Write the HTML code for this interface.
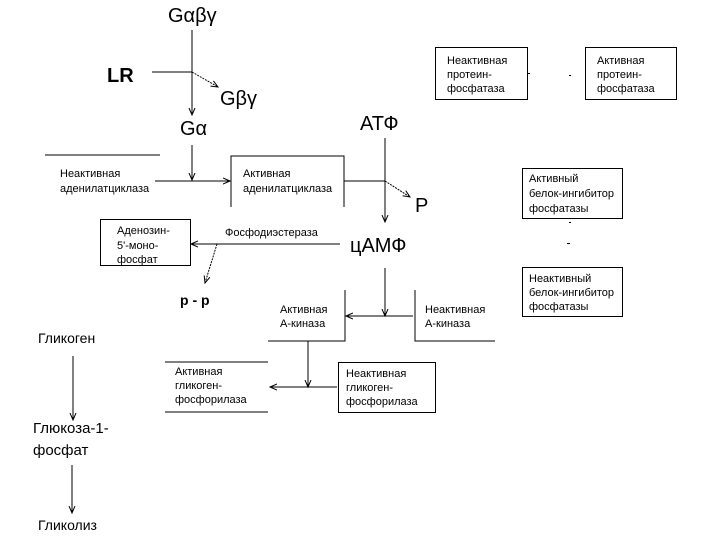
<!DOCTYPE html>
<html><head><meta charset="utf-8"><style>
html,body{margin:0;padding:0;background:#fff;}
svg{display:block}
text{font-family:"Liberation Sans","DejaVu Sans",sans-serif;fill:#000}
.s{font-size:11px}
.b{font-size:20px}
</style></head><body>
<svg width="720" height="540" viewBox="0 0 720 540" xmlns="http://www.w3.org/2000/svg">
<defs><marker id="a" markerWidth="8" markerHeight="8" refX="7" refY="4" orient="auto" markerUnits="userSpaceOnUse"><path d="M0,1 L7,4 L0,7" fill="none" stroke="#000" stroke-width="1"/></marker></defs>
<g stroke="#000" stroke-width="1" fill="none">
<line x1="192" y1="30" x2="192" y2="115" marker-end="url(#a)"/>
<line x1="152" y1="72" x2="192" y2="72"/>
<line x1="192" y1="72" x2="218" y2="87" marker-end="url(#a)" stroke-dasharray="2,1"/>
<line x1="192" y1="145" x2="192" y2="180" marker-end="url(#a)"/>
<line x1="45" y1="155" x2="160" y2="155"/>
<line x1="155" y1="181" x2="230" y2="181" marker-end="url(#a)"/>
<polyline points="231,207 231,156 344,156 344,207"/>
<line x1="344" y1="181" x2="385" y2="181"/>
<line x1="385" y1="138" x2="385" y2="222" marker-end="url(#a)"/>
<line x1="385" y1="181" x2="410" y2="197" marker-end="url(#a)" stroke-dasharray="2,1"/>
<line x1="340" y1="244" x2="191" y2="244" marker-end="url(#a)"/>
<rect x="100.5" y="219.5" width="90" height="46"/>
<line x1="217" y1="244" x2="205" y2="283" marker-end="url(#a)" stroke-dasharray="2,1"/>
<line x1="385" y1="268" x2="385" y2="316" marker-end="url(#a)"/>
<line x1="413" y1="316" x2="346" y2="316" marker-end="url(#a)"/>
<polyline points="345,290 345,341 268,341"/>
<polyline points="415,290 415,341 495,341"/>
<line x1="308" y1="341" x2="308" y2="387" marker-end="url(#a)"/>
<line x1="337" y1="387" x2="270" y2="387" marker-end="url(#a)"/>
<line x1="165" y1="362" x2="268" y2="362"/>
<line x1="165" y1="412" x2="268" y2="412"/>
<rect x="338.5" y="362.5" width="97" height="50"/>
<line x1="73" y1="356" x2="73" y2="420" marker-end="url(#a)"/>
<line x1="72" y1="465" x2="72" y2="513" marker-end="url(#a)"/>
<rect x="435.5" y="47.5" width="92" height="52"/>
<rect x="585.5" y="47.5" width="91" height="52"/>
<rect x="522.5" y="168.5" width="100" height="50"/>
<rect x="522.5" y="267.5" width="100" height="49"/>
</g>
<g fill="#000"><rect x="528" y="73" width="2" height="1"/><rect x="569" y="75" width="2" height="1"/><rect x="569" y="222" width="2" height="1"/><rect x="567" y="243" width="3" height="1"/></g>
<text class="b" x="168" y="22">Gαβγ</text>
<text x="107" y="82" font-size="20" font-weight="bold">LR</text>
<text class="b" x="220" y="105">Gβγ</text>
<text class="b" x="180" y="135">Gα</text>
<text class="s" x="60" y="177">Неактивная</text>
<text class="s" x="60" y="192">аденилатциклаза</text>
<text class="s" x="243" y="177">Активная</text>
<text class="s" x="243" y="192">аденилатциклаза</text>
<text class="b" x="360" y="130">АТФ</text>
<text class="b" x="415" y="212">P</text>
<text class="b" x="350" y="252">цАМФ</text>
<text class="s" x="117" y="234">Аденозин-</text>
<text class="s" x="117" y="249">5'-моно-</text>
<text class="s" x="117" y="263">фосфат</text>
<text class="s" x="225" y="236">Фосфодиэстераза</text>
<text x="180" y="305" font-size="14" font-weight="bold">p - p</text>
<text class="s" x="280" y="313">Активная</text>
<text class="s" x="280" y="327">А-киназа</text>
<text class="s" x="425" y="313">Неактивная</text>
<text class="s" x="425" y="327">А-киназа</text>
<text class="s" x="175" y="375">Активная</text>
<text class="s" x="175" y="389">гликоген-</text>
<text class="s" x="175" y="403">фосфорилаза</text>
<text class="s" x="346" y="377">Неактивная</text>
<text class="s" x="346" y="391">гликоген-</text>
<text class="s" x="346" y="405">фосфорилаза</text>
<text x="38" y="343" font-size="14">Гликоген</text>
<text x="33" y="433" font-size="15">Глюкоза-1-</text>
<text x="33" y="455" font-size="15">фосфат</text>
<text x="38" y="530" font-size="14">Гликолиз</text>
<text class="s" x="447" y="64">Неактивная</text>
<text class="s" x="447" y="78">протеин-</text>
<text class="s" x="447" y="92">фосфатаза</text>
<text class="s" x="597" y="64">Активная</text>
<text class="s" x="597" y="78">протеин-</text>
<text class="s" x="597" y="92">фосфатаза</text>
<text class="s" x="529" y="182">Активный</text>
<text class="s" x="529" y="197">белок-ингибитор</text>
<text class="s" x="529" y="212">фосфатазы</text>
<text class="s" x="529" y="282">Неактивный</text>
<text class="s" x="529" y="296">белок-ингибитор</text>
<text class="s" x="529" y="310">фосфатазы</text>
</svg>
</body></html>
